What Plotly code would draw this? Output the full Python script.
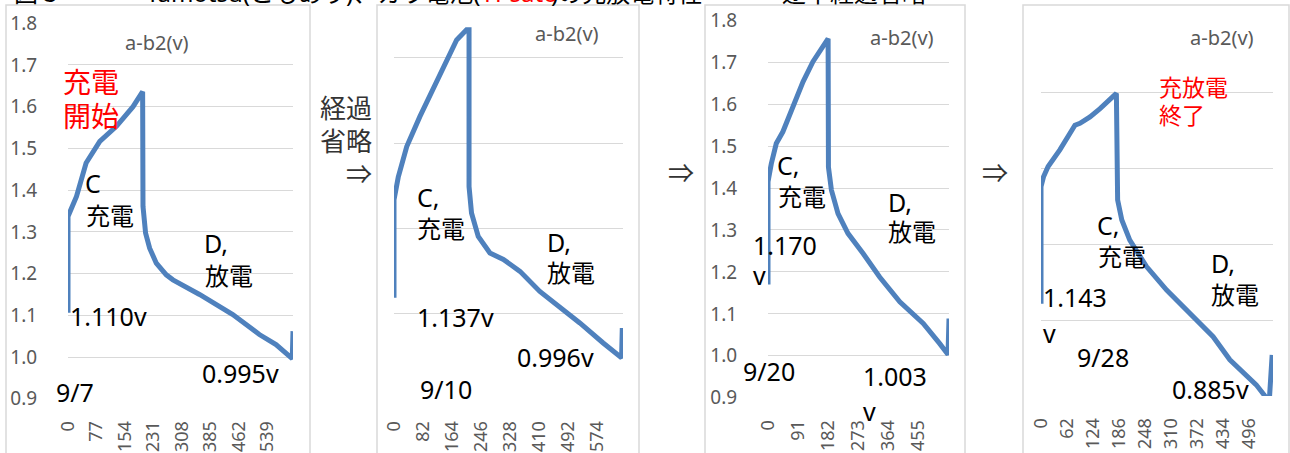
import plotly.graph_objects as go

W, H = 1290, 453

# ---------------- data ----------------
# 9/7
t_0907 = [0, 0, 23, 49, 86, 131, 176, 202, 203, 210, 221, 239, 266, 284, 356, 446, 518, 563, 607, 609]
v_0907 = [1.106, 1.337, 1.385, 1.465, 1.517, 1.553, 1.600, 1.636, 1.361, 1.297, 1.261, 1.225, 1.197, 1.185, 1.150, 1.102, 1.054, 1.030, 0.996, 1.062]
ticks_0907 = [0, 77, 154, 231, 308, 385, 462, 539]

# 9/10
t_0910 = [0, 0, 12, 36, 73, 116, 149, 177, 205, 212, 212, 219, 238, 271, 309, 356, 412, 468, 525, 591, 643, 645]
v_0910 = [1.137, 1.367, 1.420, 1.492, 1.562, 1.637, 1.695, 1.742, 1.766, 1.766, 1.398, 1.336, 1.281, 1.242, 1.227, 1.199, 1.152, 1.117, 1.078, 1.031, 0.996, 1.066]
ticks_0910 = [0, 82, 164, 246, 328, 410, 492, 574]

# 9/20
t_0920 = [0, 0, 10, 25, 45, 76, 106, 136, 167, 182, 183, 192, 212, 242, 288, 338, 399, 470, 520, 545, 548]
v_0920 = [1.170, 1.415, 1.458, 1.506, 1.534, 1.593, 1.653, 1.701, 1.740, 1.756, 1.450, 1.395, 1.339, 1.292, 1.244, 1.188, 1.129, 1.077, 1.029, 1.003, 1.089]
ticks_0920 = [0, 91, 182, 273, 364, 455]

# 9/28
t_0928 = [0, 0, 6, 17, 45, 81, 93, 117, 141, 180, 183, 193, 212, 252, 300, 363, 411, 451, 483, 514, 545, 552]
v_0928 = [1.143, 1.452, 1.478, 1.505, 1.549, 1.614, 1.619, 1.636, 1.658, 1.698, 1.417, 1.364, 1.311, 1.241, 1.179, 1.109, 1.056, 0.995, 0.960, 0.929, 0.885, 1.008]
ticks_0928 = [0, 62, 124, 186, 248, 310, 372, 434, 496]

series = [
    (t_0907, v_0907, ticks_0907, [0, 609], [0.9, 1.8], 0.1, True),
    (t_0910, v_0910, ticks_0910, [0, 647], [0.9, 1.8], 0.2, False),
    (t_0920, v_0920, ticks_0920, [0, 548], [0.9, 1.8], 0.1, True),
    (t_0928, v_0928, ticks_0928, [0, 554], [0.9, 1.9], 0.2, False),
]

# plot areas in pixels: (left, right, top, bottom)
areas = [
    (68, 293, 23, 399),
    (394, 623, 15, 399),
    (768, 949, 20, 398),
    (1041, 1273, 16.7, 396),
]
boxes = [(6, 310), (377, 639), (705, 965), (1023, 1289)]


def fx(x):
    return x / W


def fy(y):
    return 1 - y / H


BLUE = "#4f81bd"
GRID = "#d9d9d9"
GRAY = "#595959"
FONT = "Noto Sans, Noto Sans CJK JP, sans-serif"

fig = go.Figure()
layout = dict(
    width=W, height=H, margin=dict(l=0, r=0, t=0, b=0, pad=0, autoexpand=False),
    paper_bgcolor="white", plot_bgcolor="white", showlegend=False,
    font=dict(family=FONT),
)

for i, (t, v, tk, xr, yr, dt, showy) in enumerate(series):
    n = "" if i == 0 else str(i + 1)
    l, r, top, bot = areas[i]
    fig.add_trace(go.Scatter(x=t, y=v, mode="lines", xaxis="x" + n, yaxis="y" + n,
                             line=dict(color=BLUE, width=5), hoverinfo="skip"))
    layout["xaxis" + n] = dict(
        domain=[fx(l), fx(r)], range=xr, anchor="y" + n,
        tickmode="array", tickvals=tk, ticktext=[str(k) for k in tk],
        tickangle=-90, showgrid=False, zeroline=False, showline=False,
        ticks="outside", ticklen=14, tickcolor="rgba(0,0,0,0)",
        tickfont=dict(size=18, color=GRAY, family=FONT), automargin=False,
    )
    layout["yaxis" + n] = dict(
        domain=[fy(bot), fy(top)], range=[yr[0] - 0.0005, yr[1] + 0.0005], anchor="x" + n,
        tick0=0.9, dtick=dt, tickformat=".1f", showgrid=True, gridcolor=GRID, gridwidth=1.3,
        zeroline=False, showline=False, showticklabels=showy,
        ticks="outside", ticklen=26, tickcolor="rgba(0,0,0,0)",
        tickfont=dict(size=19, color=GRAY, family=FONT), automargin=False,
    )

fig.update_layout(**layout)

# chart-area borders
for (l, r) in boxes:
    fig.add_shape(type="rect", xref="paper", yref="paper",
                  x0=fx(l), x1=fx(r), y0=fy(470), y1=fy(5),
                  line=dict(color=GRID, width=1.5), fillcolor="rgba(0,0,0,0)", layer="below")

anns = []


def txt(x, y, s, size=25, color="black", xanchor="left"):
    anns.append(dict(x=fx(x), y=fy(y), xref="paper", yref="paper", text=s, showarrow=False,
                     xanchor=xanchor, yanchor="middle", align="left",
                     font=dict(size=size, color=color, family=FONT)))


# chart titles
for cx, cy in [(157, 42), (567, 33), (902, 38), (1222, 38)]:
    txt(cx, cy, "a-b2(v)", size=20, color=GRAY, xanchor="center")

# chart 1
txt(61, 82, "充電", 28, "red")
txt(61, 116, "開始", 28, "red")
txt(83, 183, "C")
txt(84, 215, "充電", 24)
txt(202, 243, "D,")
txt(203, 275, "放電", 24)
txt(68, 316, "1.110v")
txt(200, 373, "0.995v")
txt(54, 392, "9/7")

# between 1 and 2
txt(374, 108, "経過", 26, "#333333", "right")
txt(374, 141, "省略", 26, "#333333", "right")
txt(374, 174, "⇒", 26, "#333333", "right")

# chart 2
txt(415, 197, "C,")
txt(415, 228, "充電", 24)
txt(545, 242, "D,")
txt(545, 272, "放電", 24)
txt(415, 317, "1.137v")
txt(515, 357, "0.996v")
txt(418, 389, "9/10")

# chart 3
txt(666, 173, "⇒", 26, "#333333")
txt(775, 165, "C,")
txt(776, 196, "充電", 24)
txt(886, 202, "D,")
txt(886, 232, "放電", 24)
txt(751, 245, "1.170")
txt(751, 275, "v")
txt(741, 371, "9/20")
txt(861, 376, "1.003")
txt(861, 411, "v")

# chart 4
txt(980, 173, "⇒", 26, "#333333")
txt(1157, 87, "充放電", 23, "red")
txt(1157, 115, "終了", 23, "red")
txt(1095, 225, "C,")
txt(1096, 256, "充電", 24)
txt(1209, 263, "D,")
txt(1209, 294, "放電", 24)
txt(1041, 297, "1.143")
txt(1041, 333, "v")
txt(1075, 357, "9/28")
txt(1170, 389, "0.885v")

# cut-off caption at the very top
def cap(x, s, color="black", xanchor="left"):
    anns.append(dict(x=fx(x), y=fy(-7), xref="paper", yref="paper", text=s, showarrow=False,
                     xanchor=xanchor, yanchor="middle",
                     font=dict(size=24, color=color, family=FONT)))


cap(12, "図３")
cap(482, "Tamotsu(こもあり)、カラ電池(", xanchor="right")
cap(482, "H-sato", "red")
cap(549, ")の充放電特性")
cap(780, "途中経過省略")

fig.update_layout(annotations=anns)
fig.write_html("out.html", config={"displayModeBar": False},
               post_script="document.body.style.margin='0';document.body.style.overflow='hidden';")
